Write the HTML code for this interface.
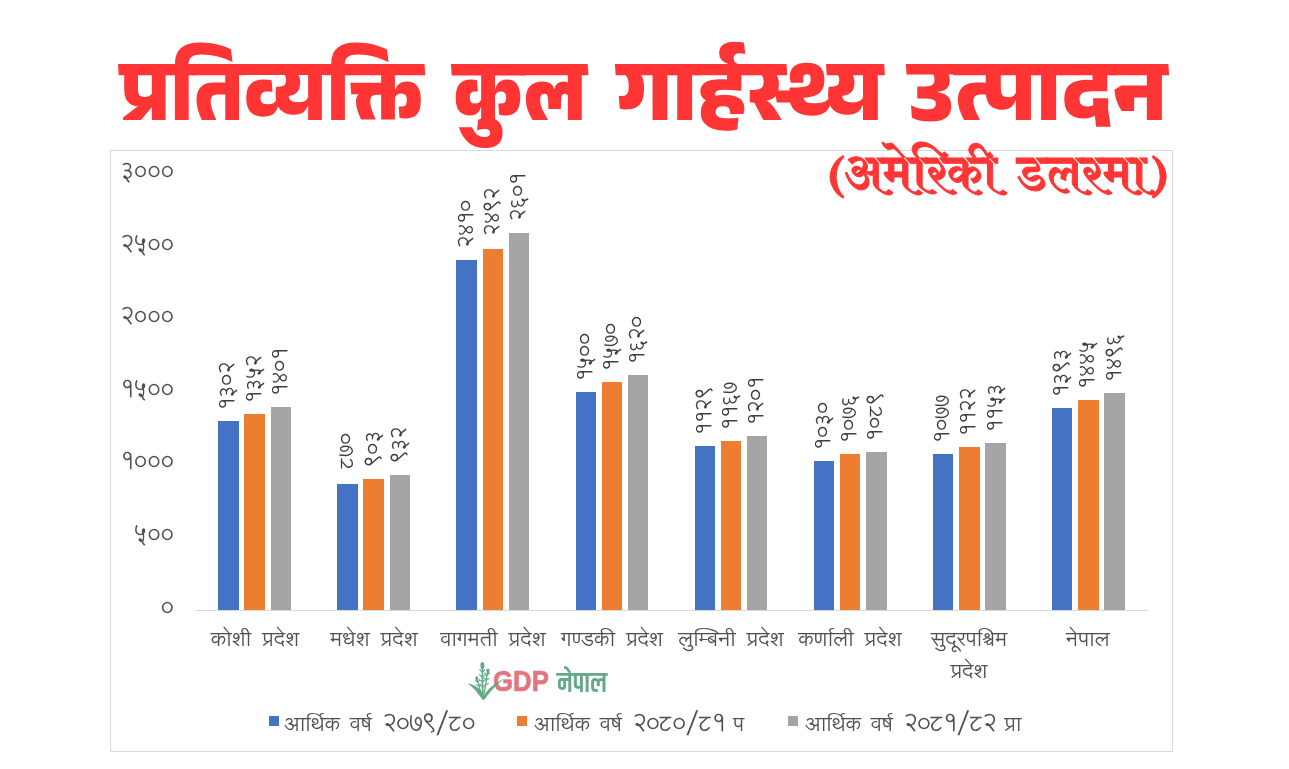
<!DOCTYPE html>
<html lang="ne"><head><meta charset="utf-8"><title>प्रतिव्यक्ति कुल गार्हस्थ्य उत्पादन</title><style>
*{margin:0;padding:0;box-sizing:border-box}
html,body{width:1289px;height:769px;background:#fff;overflow:hidden}
body{position:relative;font-family:'Lohit Devanagari','Liberation Sans',sans-serif}
div{position:absolute;white-space:nowrap}
.title{font-family:'Anek Devanagari','Anek Devanagari','Noto Sans Devanagari','Liberation Sans',sans-serif;font-weight:800;color:#ff3535;line-height:1;transform-origin:0 0}
.sub{font-family:'Amita','Liberation Sans',sans-serif;font-weight:700;-webkit-text-stroke:0.9px #ff3535;color:#ff3535;line-height:1}
.box{left:110px;top:150px;width:1063px;height:602px;border:1px solid #d9d9d9}
.yt,.dl,.cat,.lt{font-family:'Lohit Devanagari','Liberation Sans','Noto Sans Devanagari',sans-serif;color:#505050}
.yt{text-align:right}
.ax{height:1px;background:#d9d9d9}
.dl{transform-origin:0 0;transform:rotate(-90deg);color:#404040}
.cat{width:120px;text-align:center;white-space:normal}
.lsq{top:716px;width:10px;height:10px}
.lt{line-height:1}
.dg{font-size:24px;letter-spacing:-3.1px}
.logo{left:462px;top:658px;width:160px;height:46px}
.gdp{position:absolute;left:31px;top:8px;font:700 30.3px 'Liberation Sans',sans-serif;color:#e27580;-webkit-text-stroke:0.7px #e27580;transform:scaleX(0.85);transform-origin:0 0;line-height:1}
.np{position:absolute;left:95px;top:11.5px;font:600 28px 'Khand','Anek Devanagari','Liberation Sans',sans-serif;color:#66a98a;line-height:1;transform:scaleX(0.94);transform-origin:0 0}
</style></head><body>
<div class="title" style="left:120.45px;top:63px;font-size:86.4px;transform:scaleX(0.9259)">प्रतिव्यक्ति</div>
<div class="title" style="left:453.37px;top:63px;font-size:86.4px;transform:scaleX(0.9340)">कुल</div>
<div class="title" style="left:616.89px;top:63px;font-size:86.4px;transform:scaleX(0.9967)">गार्हस्थ्य</div>
<div class="title" style="left:907.92px;top:63px;font-size:86.4px;transform:scaleX(1.0115)">उत्पादन</div>
<div class="box"></div>
<div class="yt" style="right:1116px;top:587.50px;height:40px;line-height:40px;font-size:24px;letter-spacing:-2.2px">०</div>
<div class="yt" style="right:1116px;top:514.97px;height:40px;line-height:40px;font-size:24px;letter-spacing:-2.2px">५००</div>
<div class="yt" style="right:1116px;top:442.44px;height:40px;line-height:40px;font-size:24px;letter-spacing:-2.2px">१०००</div>
<div class="yt" style="right:1116px;top:369.91px;height:40px;line-height:40px;font-size:24px;letter-spacing:-2.2px">१५००</div>
<div class="yt" style="right:1116px;top:297.38px;height:40px;line-height:40px;font-size:24px;letter-spacing:-2.2px">२०००</div>
<div class="yt" style="right:1116px;top:224.85px;height:40px;line-height:40px;font-size:24px;letter-spacing:-2.2px">२५००</div>
<div class="yt" style="right:1116px;top:152.32px;height:40px;line-height:40px;font-size:24px;letter-spacing:-2.2px">३०००</div>
<div class="ax" style="left:195.0px;top:609.50px;width:953.0px"></div>
<div class="bar" style="left:218.16px;top:421.13px;width:20.4px;height:188.87px;background:#4472C4"></div>
<div class="dl" style="left:219.36px;top:411.13px;font-size:22px;line-height:18px;height:18px;letter-spacing:-2.3px">१३०२</div>
<div class="bar" style="left:244.36px;top:413.88px;width:20.4px;height:196.12px;background:#ED7D31"></div>
<div class="dl" style="left:245.56px;top:403.88px;font-size:22px;line-height:18px;height:18px;letter-spacing:-2.3px">१३५२</div>
<div class="bar" style="left:270.56px;top:406.77px;width:20.4px;height:203.23px;background:#A5A5A5"></div>
<div class="dl" style="left:271.76px;top:396.77px;font-size:22px;line-height:18px;height:18px;letter-spacing:-2.3px">१४०१</div>
<div class="cat" style="left:194.56px;top:623.5px;font-size:20px;line-height:32px;word-spacing:4px;transform:scaleX(1.06)">कोशी प्रदेश</div>
<div class="bar" style="left:337.29px;top:483.80px;width:20.4px;height:126.20px;background:#4472C4"></div>
<div class="dl" style="left:338.49px;top:470.40px;font-size:22px;line-height:18px;height:18px;letter-spacing:-2.3px">८७०</div>
<div class="bar" style="left:363.49px;top:479.01px;width:20.4px;height:130.99px;background:#ED7D31"></div>
<div class="dl" style="left:364.69px;top:468.11px;font-size:22px;line-height:18px;height:18px;letter-spacing:-2.3px">९०३</div>
<div class="bar" style="left:389.69px;top:474.80px;width:20.4px;height:135.20px;background:#A5A5A5"></div>
<div class="dl" style="left:390.89px;top:463.90px;font-size:22px;line-height:18px;height:18px;letter-spacing:-2.3px">९३२</div>
<div class="cat" style="left:313.69px;top:623.5px;font-size:20px;line-height:32px;word-spacing:4px;transform:scaleX(1.06)">मधेश प्रदेश</div>
<div class="bar" style="left:456.41px;top:260.41px;width:20.4px;height:349.59px;background:#4472C4"></div>
<div class="dl" style="left:457.61px;top:249.21px;font-size:22px;line-height:18px;height:18px;letter-spacing:-2.3px">२४१०</div>
<div class="bar" style="left:482.61px;top:248.51px;width:20.4px;height:361.49px;background:#ED7D31"></div>
<div class="dl" style="left:483.81px;top:237.31px;font-size:22px;line-height:18px;height:18px;letter-spacing:-2.3px">२४९२</div>
<div class="bar" style="left:508.81px;top:232.70px;width:20.4px;height:377.30px;background:#A5A5A5"></div>
<div class="dl" style="left:510.01px;top:221.50px;font-size:22px;line-height:18px;height:18px;letter-spacing:-2.3px">२६०१</div>
<div class="cat" style="left:432.81px;top:623.5px;font-size:20px;line-height:32px;word-spacing:4px;transform:scaleX(1.06)">वागमती प्रदेश</div>
<div class="bar" style="left:575.54px;top:392.41px;width:20.4px;height:217.59px;background:#4472C4"></div>
<div class="dl" style="left:576.74px;top:382.41px;font-size:22px;line-height:18px;height:18px;letter-spacing:-2.3px">१५००</div>
<div class="bar" style="left:601.74px;top:382.26px;width:20.4px;height:227.74px;background:#ED7D31"></div>
<div class="dl" style="left:602.94px;top:372.26px;font-size:22px;line-height:18px;height:18px;letter-spacing:-2.3px">१५७०</div>
<div class="bar" style="left:627.94px;top:375.00px;width:20.4px;height:235.00px;background:#A5A5A5"></div>
<div class="dl" style="left:629.14px;top:365.00px;font-size:22px;line-height:18px;height:18px;letter-spacing:-2.3px">१६२०</div>
<div class="cat" style="left:551.94px;top:623.5px;font-size:20px;line-height:32px;word-spacing:4px;transform:scaleX(1.06)">गण्डकी प्रदेश</div>
<div class="bar" style="left:694.66px;top:446.23px;width:20.4px;height:163.77px;background:#4472C4"></div>
<div class="dl" style="left:695.86px;top:436.23px;font-size:22px;line-height:18px;height:18px;letter-spacing:-2.3px">११२९</div>
<div class="bar" style="left:720.86px;top:440.71px;width:20.4px;height:169.29px;background:#ED7D31"></div>
<div class="dl" style="left:722.06px;top:430.71px;font-size:22px;line-height:18px;height:18px;letter-spacing:-2.3px">११६७</div>
<div class="bar" style="left:747.06px;top:435.78px;width:20.4px;height:174.22px;background:#A5A5A5"></div>
<div class="dl" style="left:748.26px;top:425.78px;font-size:22px;line-height:18px;height:18px;letter-spacing:-2.3px">१२०१</div>
<div class="cat" style="left:671.06px;top:623.5px;font-size:20px;line-height:32px;word-spacing:4px;transform:scaleX(1.06)">लुम्बिनी प्रदेश</div>
<div class="bar" style="left:813.79px;top:460.59px;width:20.4px;height:149.41px;background:#4472C4"></div>
<div class="dl" style="left:814.99px;top:450.59px;font-size:22px;line-height:18px;height:18px;letter-spacing:-2.3px">१०३०</div>
<div class="bar" style="left:839.99px;top:453.92px;width:20.4px;height:156.08px;background:#ED7D31"></div>
<div class="dl" style="left:841.19px;top:443.92px;font-size:22px;line-height:18px;height:18px;letter-spacing:-2.3px">१०७६</div>
<div class="bar" style="left:866.19px;top:452.03px;width:20.4px;height:157.97px;background:#A5A5A5"></div>
<div class="dl" style="left:867.39px;top:442.03px;font-size:22px;line-height:18px;height:18px;letter-spacing:-2.3px">१०८९</div>
<div class="cat" style="left:790.19px;top:623.5px;font-size:20px;line-height:32px;word-spacing:4px;transform:scaleX(1.06)">कर्णाली प्रदेश</div>
<div class="bar" style="left:932.91px;top:453.77px;width:20.4px;height:156.23px;background:#4472C4"></div>
<div class="dl" style="left:934.11px;top:443.77px;font-size:22px;line-height:18px;height:18px;letter-spacing:-2.3px">१०७७</div>
<div class="bar" style="left:959.11px;top:447.24px;width:20.4px;height:162.76px;background:#ED7D31"></div>
<div class="dl" style="left:960.31px;top:437.24px;font-size:22px;line-height:18px;height:18px;letter-spacing:-2.3px">११२२</div>
<div class="bar" style="left:985.31px;top:442.75px;width:20.4px;height:167.25px;background:#A5A5A5"></div>
<div class="dl" style="left:986.51px;top:432.75px;font-size:22px;line-height:18px;height:18px;letter-spacing:-2.3px">११५३</div>
<div class="cat" style="left:909.31px;top:623.5px;font-size:20px;line-height:32px;word-spacing:4px;transform:scaleX(1.06)">सुदूरपश्चिम<br>प्रदेश</div>
<div class="bar" style="left:1052.04px;top:407.93px;width:20.4px;height:202.07px;background:#4472C4"></div>
<div class="dl" style="left:1053.24px;top:397.93px;font-size:22px;line-height:18px;height:18px;letter-spacing:-2.3px">१३९३</div>
<div class="bar" style="left:1078.24px;top:400.39px;width:20.4px;height:209.61px;background:#ED7D31"></div>
<div class="dl" style="left:1079.44px;top:390.39px;font-size:22px;line-height:18px;height:18px;letter-spacing:-2.3px">१४४५</div>
<div class="bar" style="left:1104.44px;top:392.99px;width:20.4px;height:217.01px;background:#A5A5A5"></div>
<div class="dl" style="left:1105.64px;top:382.99px;font-size:22px;line-height:18px;height:18px;letter-spacing:-2.3px">१४९६</div>
<div class="cat" style="left:1028.44px;top:623.5px;font-size:20px;line-height:32px;word-spacing:4px;transform:scaleX(1.06)">नेपाल</div>
<div class="sub" style="left:829px;top:153px;font-size:47px;word-spacing:10px;transform:scaleX(0.97);transform-origin:0 0">(अमेरिकी डलरमा)</div>
<div class="logo"><span class="gdp">GDP</span><span class="np">नेपाल</span>
<svg width="50" height="46" viewBox="0 0 50 46" style="position:absolute;left:0;top:0">
<g fill="none" stroke="#62a987" stroke-linecap="round">
<path d="M21 41 C20.5 30 20.3 18 20.4 6" stroke-width="1.6"/>
<path d="M21.5 40 C23 30 24.5 22 25.8 12" stroke-width="1.3"/>
<path d="M20.5 40 C18.5 33 16.5 27 14.8 20" stroke-width="1.2"/>
<path d="M20.4 14 l-2.6 -2.2 M20.4 14 l2.6 -2.2 M20.4 19 l-3 -2.4 M20.4 19 l3 -2.4 M20.5 24 l-3 -2.4 M20.5 24 l3 -2.4 M20.7 29 l-2.8 -2.2 M20.7 29 l2.8 -2.2" stroke-width="1.2"/>
<path d="M25 17 l-2.4 -2 M25 17 l2.6 -1.8 M24.3 22 l-2.4 -2 M24.3 22 l2.8 -1.6 M23.5 27 l2.8 -1.6" stroke-width="1.1"/>
<path d="M15.6 24 l-2.2 -1.4 M15.6 24 l2 -1.8 M16.8 28 l-2.4 -1.2 M16.8 28 l2 -1.6" stroke-width="1.1"/>
</g>
<g fill="#62a987">
<ellipse cx="20.4" cy="7.5" rx="2" ry="3.6"/>
<ellipse cx="25.9" cy="13" rx="1.6" ry="2.4"/>
<ellipse cx="14.8" cy="20.5" rx="1.5" ry="2.2"/>
<path d="M21 42 C16 36 12 29 5 25.2 C11 26 16 29 19.5 33 Z"/>
<path d="M21 42 C24 34 30 26 42.2 20.6 C37 25 31 30 23 41 Z" opacity="0.92"/>
<path d="M21 42 C22 36 26 30 36 24.5 C30 30 25 35 22.5 41 Z"/>
</g></svg></div>
<div class="lsq" style="left:268.5px;background:#4472C4"></div>
<div class="lt" style="left:284.4px;top:711.5px;font-size:20px;word-spacing:3px;transform:scaleX(1.05);transform-origin:0 0">आर्थिक वर्ष <span class="dg">२०७९/८०</span></div>
<div class="lsq" style="left:517.2px;background:#ED7D31"></div>
<div class="lt" style="left:534px;top:711.5px;font-size:20px;word-spacing:3px;transform:scaleX(1.05);transform-origin:0 0">आर्थिक वर्ष <span class="dg">२०८०/८१</span> प</div>
<div class="lsq" style="left:787.7px;background:#A5A5A5"></div>
<div class="lt" style="left:804.8px;top:711.5px;font-size:20px;word-spacing:3px;transform:scaleX(1.05);transform-origin:0 0">आर्थिक वर्ष <span class="dg">२०८१/८२</span> प्रा</div>
</body></html>
